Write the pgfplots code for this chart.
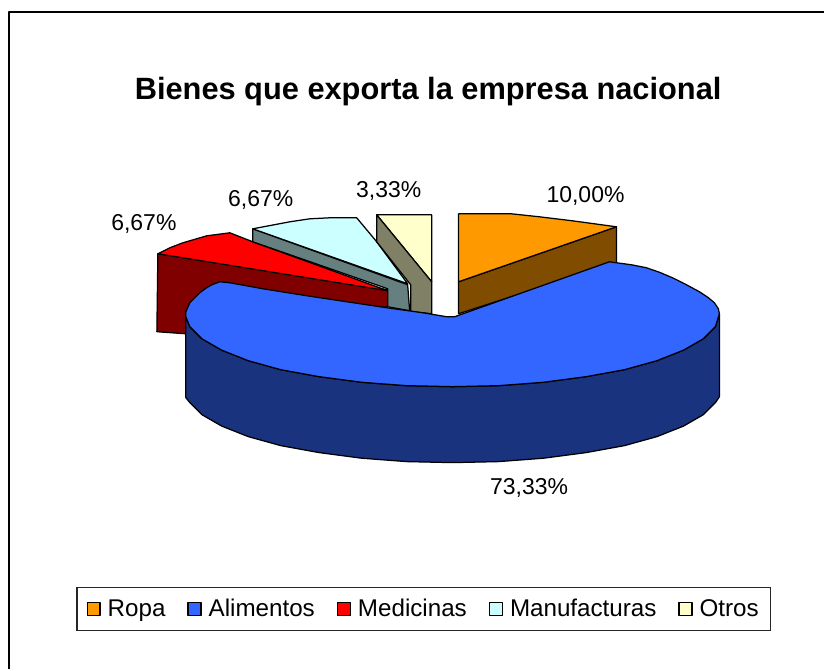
\documentclass[border=0pt]{standalone}
\usepackage{pgfplots}
\pgfplotsset{compat=1.18}
\usepackage{fontspec}
\setmainfont{Liberation Sans}
\definecolor{cOr}{HTML}{FF9900}
\definecolor{cOrD}{HTML}{804C00}
\definecolor{cBl}{HTML}{3366FF}
\definecolor{cBlD}{HTML}{19337F}
\definecolor{cRe}{HTML}{FF0000}
\definecolor{cReD}{HTML}{800000}
\definecolor{cCy}{HTML}{CCFFFF}
\definecolor{cCyD}{HTML}{668080}
\definecolor{cYe}{HTML}{FFFFCC}
\definecolor{cYeD}{HTML}{808066}
\begin{document}
\begin{tikzpicture}
\begin{axis}[
  scale only axis, width=825pt, height=670pt,
  xmin=0, xmax=825, ymin=0, ymax=670, y dir=reverse,
  axis lines=none, clip=false,
  legend columns=5,
  legend style={at={(axis cs:424,609.5)}, anchor=center, draw=black!85, line width=1.5pt,
    font=\fontsize{24.2}{28}\selectfont, inner xsep=9.5pt, inner ysep=10pt,
    /tikz/every even column/.append style={column sep=20pt},
    /tikz/every odd column/.append style={column sep=5pt}},
  legend cell align=left,
  legend image code/.code={\draw[#1, line width=1.2pt] (0pt,-6.5pt) rectangle (13pt,6.5pt);},
  every axis plot/.append style={line width=1.25pt, draw=black, line join=round, forget plot},
]
\addlegendimage{fill=cOr}\addlegendentry{Ropa}
\addlegendimage{fill=cBl}\addlegendentry{Alimentos}
\addlegendimage{fill=cRe}\addlegendentry{Medicinas}
\addlegendimage{fill=cCy}\addlegendentry{Manufacturas}
\addlegendimage{fill=cYe}\addlegendentry{Otros}
% background fixes the page to the full 825x670 picture
\addplot[fill=white, draw=none] coordinates {(0,0) (825,0) (825,670) (0,670)} --cycle;
% frame: only the left and top edges are in the picture
\addplot[draw=black, line width=1.4pt] coordinates {(9,670) (9,12) (825,12)};
% Medicinas
\addplot[fill=cReD] coordinates {(158,254) (388,290) (388,307) (185,334) (157,332)} --cycle;
\addplot[fill=cRe] coordinates {(158,254) (170,248) (183,243) (207,236) (230,233) (253,242) (388,291)} --cycle;
% Manufacturas
\addplot[fill=cCyD] coordinates {(253,229) (408,285) (410,311) (388,307) (388,289) (253,242)} --cycle;
\addplot[fill=cCy] coordinates {(253,229) (290,222) (310,219) (330,218) (357,218) (377,242) (408,284)} --cycle;
% Otros
\addplot[fill=cYe] coordinates {(377,215) (432,215) (432,282)} --cycle;
\addplot[fill=cYeD] coordinates {(377,215) (432,282) (432,314) (411,312) (411,285) (377,242)} --cycle;
% Ropa
\addplot[fill=cOrD] coordinates {(459,282) (617,227) (617,263) (459,314)} --cycle;
\addplot[fill=cOr] coordinates {(459,214) (490,214) (512,214) (540,217) (573,221) (617,227) (459,282)} --cycle;
% Alimentos side
\addplot[fill=cBlD] coordinates {(720,314) (716,327) (704,339) (684,350.5) (657.5,361) (625,370) (586.5,377) (544,382.6) (499,386) (453,387) (407,386) (362,382.6) (319.5,377) (281,370) (248.5,361) (222,350.5) (202,339) (190,327) (186,317) (186,398) (190,403) (202,415) (222,426.5) (248.5,437) (281,446) (319.5,453) (362,458.6) (407,462) (453,463) (499,462) (544,458.6) (586.5,453) (625,446) (657.5,437) (684,426.5) (704,415) (716,403) (720,397)} --cycle;
% Alimentos top
\addplot[fill=cBl] coordinates {(455,317) (610,262) (617,263) (632,265) (647,268) (660,272.5) (673,278) (687,285) (700,292) (709,298) (715,303) (719,309) (720,314) (716,327) (704,339) (684,350.5) (657.5,361) (625,370) (586.5,377) (544,382.6) (499,386) (453,387) (407,386) (362,382.6) (319.5,377) (281,370) (248.5,361) (222,350.5) (202,339) (190,327) (186,317) (186,312) (190,303) (195,298) (200,293) (206,288.5) (212,285) (220,282) (230,283) (263,289) (307,296) (347,302) (387,308) (423,313) (447,317)} --cycle;
% texts
\node[font=\bfseries\fontsize{30.8}{34}\selectfont] at (axis cs:428.5,92) {Bienes que exporta la empresa nacional};
\node[font=\fontsize{23}{27}\selectfont] at (axis cs:586,196.5) {10,00\%};
\node[font=\fontsize{23}{27}\selectfont] at (axis cs:389,191.5) {3,33\%};
\node[font=\fontsize{23}{27}\selectfont] at (axis cs:261,200.5) {6,67\%};
\node[font=\fontsize{23}{27}\selectfont] at (axis cs:144,224.5) {6,67\%};
\node[font=\fontsize{23}{27}\selectfont] at (axis cs:529.5,488) {73,33\%};
\end{axis}
\end{tikzpicture}
\end{document}
